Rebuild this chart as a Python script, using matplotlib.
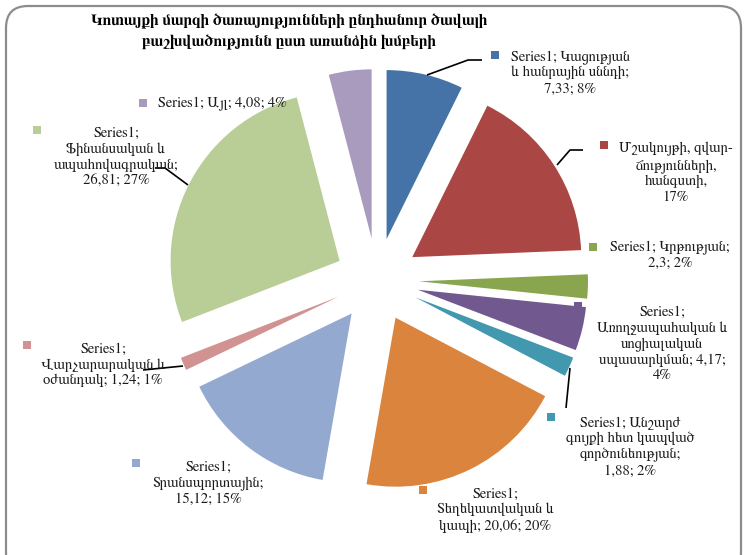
import matplotlib
matplotlib.use("Agg")
import matplotlib.pyplot as plt
from matplotlib.patches import FancyBboxPatch, Rectangle

# ---------------- data ----------------
categories = [
    "Կացության և հանրային սննդի",
    "Մշակույթի, զվարճությունների, հանգստի",
    "Կրթության",
    "Առողջապահական և սոցիալական սպասարկման",
    "Անշարժ գույքի հետ կապված գործունեության",
    "Տեղեկատվական և կապի",
    "Տրանսպորտային",
    "Վարչարարական և օժանդակ",
    "Ֆինանսական և ապահովագրական",
    "Այլ",
]
values = [7.33, 17.01, 2.30, 4.17, 1.88, 20.06, 15.12, 1.24, 26.81, 4.08]
label_text = [
    "Series1; Կացության\nև հանրային սննդի;\n7,33; 8%",
    "Մշակույթի, զվար-\nճությունների,\nհանգստի,\n17%",
    "Series1; Կրթության;\n2,3; 2%",
    "Series1;\nԱռողջապահական և\nսոցիալական\nսպասարկման; 4,17;\n4%",
    "Series1; Անշարժ\nգույքի հետ կապված\nգործունեության;\n1,88; 2%",
    "Series1;\nՏեղեկատվական և\nկապի; 20,06; 20%",
    "Series1;\nՏրանսպորտային;\n15,12; 15%",
    "Series1;\nՎարչարարական և\nօժանդակ; 1,24; 1%",
    "Series1;\nՖինանսական և\nապահովագրական;\n26,81; 27%",
    "Series1; Այլ; 4,08; 4%",
]
title_text = "Կոտայքի մարզի ծառայությունների ընդհանուր ծավալի\nբաշխվածությունն ըստ առանձին խմբերի"

colors = ["#4572A7", "#AA4643", "#89A54E", "#71588F", "#4198AF",
          "#DB843D", "#93A9CF", "#D19392", "#B9CD96", "#A99BBD"]

# ---------------- layout (pixel coords, origin top-left) ----------------
W, H = 745, 555
label_pos = [(570, 73), (676, 173), (670, 255), (662, 344), (630, 447),
             (495, 510), (208, 483), (103, 365), (116, 157), (222, 103)]
marker_pos = [(495, 55), (604, 145), (593, 247), (578, 306), (551, 417),
              (423, 490), (136, 463), (27, 345), (37, 130), (143, 103)]
leaders = {
    0: [(427, 75), (468, 60), (482, 60)],
    1: [(557, 165), (570, 150), (583, 150)],
    4: [(570, 368), (566, 408)],
    7: [(183, 366), (143, 370)],
    8: [(188, 185), (165, 168), (155, 168)],
}

FONT = ["FreeSerif", "DejaVu Serif"]

def P(x, y):
    return x, H - y

fig = plt.figure(figsize=(W / 100, H / 100), dpi=100)
ax = fig.add_axes([0, 0, 1, 1])

ax.pie(values, colors=colors, startangle=90, counterclock=False,
       explode=[42] * len(values), radius=169, center=P(377, 280),
       wedgeprops=dict(linewidth=0))

ax.set_xlim(0, W)
ax.set_ylim(0, H)
ax.set_aspect("auto")
ax.axis("off")

# chart frame
frame = FancyBboxPatch(P(6, 575), 735, 569,
                       boxstyle="round,pad=0,rounding_size=22",
                       fill=False, edgecolor="#8c8c8c", linewidth=1.6,
                       transform=ax.transData, clip_on=False)
ax.add_patch(frame)

# title
ax.text(*P(289, 31), title_text, ha="center", va="center",
        fontsize=11.2, fontweight="bold", family=FONT, linespacing=1.6)

# leader lines
for i, pts in leaders.items():
    xs = [p[0] for p in pts]
    ys = [H - p[1] for p in pts]
    ax.plot(xs, ys, color="black", linewidth=1.2, solid_capstyle="butt")

# labels with legend keys
for i, txt in enumerate(label_text):
    ax.text(*P(*label_pos[i]), txt, ha="center", va="center",
            fontsize=10.5, family=FONT, linespacing=1.2, color="#1a1a1a")
    mx, my = P(*marker_pos[i])
    ax.add_patch(Rectangle((mx - 4, my - 4), 8, 8, facecolor=colors[i],
                           edgecolor="none"))

fig.savefig("out.png", dpi=100)
